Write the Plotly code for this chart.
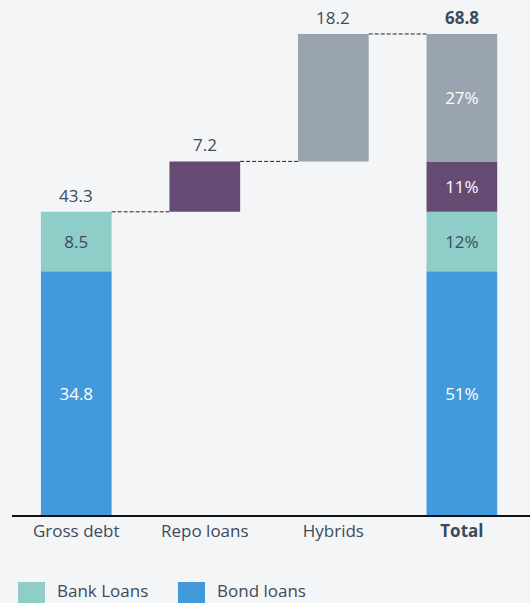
import plotly.graph_objects as go

# Categories and values (EUR bn)
categories = ["Gross debt", "Repo loans", "Hybrids", "Total"]
tick_labels = ["Gross debt", "Repo loans", "Hybrids", "<b>Total</b>"]
bond_loans = 34.8
bank_loans = 8.5
repo_loans = 7.2
hybrids = 18.2
gross_debt_total = 43.3
grand_total = 68.8
total_share_labels = ["51%", "12%", "11%", "27%"]  # bond, bank, repo, hybrids

BG = "#f4f5f7"
TXT = "#3d4a5a"
C_BOND = "#4299dc"
C_BANK = "#8fcec8"
C_REPO = "#654b73"
C_HYB = "#9aa4ae"
FONT = "Open Sans"
FS = 17
W = 0.55

fig = go.Figure()

repo_base = bond_loans + bank_loans
hyb_base = repo_base + repo_loans
stack_top = hyb_base + hybrids


def add_bar(xs, ys, bases, color, texts, text_color, name):
    fig.add_trace(go.Bar(
        x=xs, y=ys, base=bases, name=name, marker=dict(color=color, line=dict(width=0)),
        width=W, text=texts, textposition="inside", insidetextanchor="middle",
        textfont=dict(family=FONT, size=FS, color=text_color),
        showlegend=False, hoverinfo="skip",
    ))


add_bar(["Gross debt", "Total"], [bond_loans, bond_loans], [0, 0], C_BOND,
        [f"{bond_loans}", total_share_labels[0]], "white", "Bond loans")
add_bar(["Gross debt", "Total"], [bank_loans, bank_loans], [bond_loans, bond_loans], C_BANK,
        [f"{bank_loans}", total_share_labels[1]], TXT, "Bank Loans")
add_bar(["Repo loans", "Total"], [repo_loans, repo_loans], [repo_base, repo_base], C_REPO,
        ["", total_share_labels[2]], "white", "Repo loans")
add_bar(["Hybrids", "Total"], [hybrids, hybrids], [hyb_base, hyb_base], C_HYB,
        ["", total_share_labels[3]], "white", "Hybrids")

# Value labels above each column
top_labels = [
    (0, repo_base, f"{gross_debt_total}", False),
    (1, hyb_base, f"{repo_loans}", False),
    (2, stack_top, f"{hybrids}", False),
    (3, stack_top, f"{grand_total}", True),
]
for i, yv, txt, bold in top_labels:
    fig.add_annotation(x=i, y=yv, text=f"<b>{txt}</b>" if bold else txt,
                       showarrow=False, yanchor="bottom", yshift=3,
                       font=dict(family=FONT, size=FS, color=TXT))

# Dashed connectors between consecutive columns
levels = [repo_base, hyb_base, stack_top]
for i, lv in enumerate(levels):
    fig.add_shape(type="line", xref="x", yref="y",
                  x0=i + W / 2, x1=i + 1 - W / 2, y0=lv, y1=lv,
                  line=dict(color="#222222", width=1, dash="4px,2px"))

# Legend drawn as swatches and labels below the axis
PLOT_L, PLOT_W, PLOT_B, PLOT_H = 12, 518, 515, 515
legend_items = [("Bank Loans", C_BANK, 18), ("Bond loans", C_BOND, 178)]
for label, color, px in legend_items:
    x0 = (px - PLOT_L) / PLOT_W
    fig.add_shape(type="rect", xref="paper", yref="paper",
                  x0=x0, x1=x0 + 27 / PLOT_W,
                  y0=-(582 - PLOT_B) / PLOT_H, y1=-(610 - PLOT_B) / PLOT_H,
                  fillcolor=color, line=dict(width=0))
    fig.add_annotation(xref="paper", yref="paper", x=x0 + 37 / PLOT_W,
                       y=-(590 - PLOT_B) / PLOT_H,
                       text=label, showarrow=False, xanchor="left", yanchor="middle",
                       font=dict(family=FONT, size=FS, color=TXT))

fig.update_layout(
    width=530, height=603, barmode="overlay",
    paper_bgcolor=BG, plot_bgcolor=BG,
    margin=dict(l=12, r=0, t=0, b=88),
    showlegend=False,
    xaxis=dict(categoryorder="array", categoryarray=categories,
               tickvals=categories, ticktext=tick_labels,
               range=[-0.5, 3.53], showgrid=False, zeroline=False,
               showline=True, linecolor="#111111", linewidth=2,
               ticks="", tickfont=dict(family=FONT, size=FS, color=TXT)),
    yaxis=dict(range=[0, 73.55], visible=False, showgrid=False, zeroline=False),
    font=dict(family=FONT),
)

fig.write_html("out.html")
